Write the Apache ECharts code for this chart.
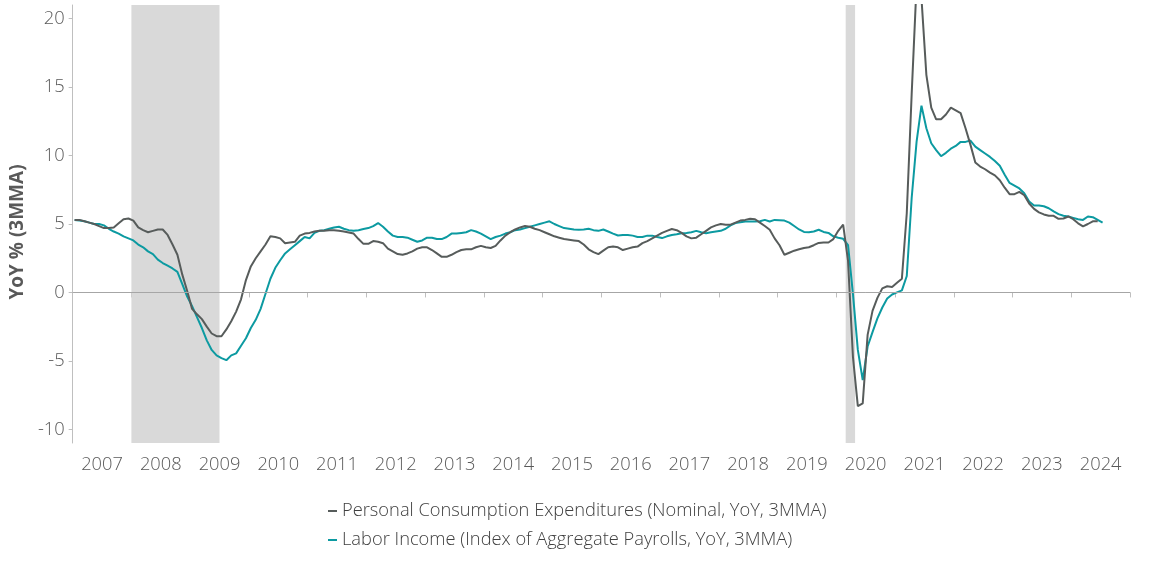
<!DOCTYPE html>
<html><head><meta charset="utf-8">
<script src="https://cdn.jsdelivr.net/npm/echarts@6/dist/echarts.min.js"></script>
<style>html,body{margin:0;padding:0;background:#fff}#c{width:1152px;height:577px}</style>
</head><body><div id="c"></div><script>
const startYear = 2007;
const seriesNames = ['Personal Consumption Expenditures (Nominal, YoY, 3MMA)', 'Labor Income (Index of Aggregate Payrolls, YoY, 3MMA)'];
const pce = [
 5.3, 5.3, 5.2, 5.1, 5.0, 4.85, 4.7, 4.7, 4.75, 5.05, 5.35, 5.4,
 5.25, 4.75, 4.55, 4.4, 4.5, 4.6, 4.6, 4.2, 3.5, 2.75, 1.3, 0.1,
 -1.2, -1.6, -1.95, -2.5, -3.0, -3.2, -3.2, -2.7, -2.1, -1.4, -0.5, 0.9,
 1.9, 2.5, 3.0, 3.5, 4.1, 4.05, 3.95, 3.6, 3.65, 3.7, 4.15, 4.3,
 4.35, 4.45, 4.5, 4.5, 4.55, 4.55, 4.5, 4.45, 4.38, 4.3, 3.9, 3.55,
 3.55, 3.75, 3.7, 3.6, 3.2, 3.0, 2.8, 2.75, 2.85, 3.0, 3.2, 3.3,
 3.3, 3.1, 2.85, 2.6, 2.6, 2.75, 2.95, 3.1, 3.15, 3.15, 3.3, 3.4,
 3.3, 3.25, 3.4, 3.8, 4.15, 4.4, 4.6, 4.75, 4.85, 4.8, 4.65, 4.55,
 4.4, 4.25, 4.1, 4.0, 3.9, 3.85, 3.8, 3.75, 3.5, 3.15, 2.95, 2.8,
 3.05, 3.3, 3.35, 3.3, 3.1, 3.2, 3.3, 3.35, 3.6, 3.75, 3.95, 4.15,
 4.35, 4.5, 4.63, 4.55, 4.35, 4.1, 3.95, 4.0, 4.25, 4.5, 4.75, 4.9,
 5.0, 4.95, 4.95, 5.1, 5.25, 5.3, 5.38, 5.35, 5.1, 4.85, 4.58, 3.95,
 3.45, 2.75, 2.9, 3.05, 3.15, 3.25, 3.3, 3.45, 3.62, 3.65, 3.65, 3.9,
 4.5, 4.95, 2.3, -4.7, -8.3, -8.1, -3.1, -1.35, -0.4, 0.3, 0.45, 0.4,
 0.7, 1.0, 5.8, 14.5, 22.5, 21.5, 15.9, 13.5, 12.65, 12.65, 13.0, 13.5,
 13.3, 13.1, 12.0, 10.8, 9.5, 9.2, 9.0, 8.75, 8.55, 8.2, 7.65, 7.18,
 7.18, 7.35, 7.1, 6.5, 6.1, 5.85, 5.7, 5.6, 5.6, 5.38, 5.4, 5.55,
 5.35, 5.05, 4.82, 5.0, 5.2, 5.2
];
const labor = [
 5.3, 5.25, 5.2, 5.1, 5.0, 5.0, 4.9, 4.65, 4.45, 4.3, 4.1, 3.95,
 3.8, 3.5, 3.3, 3.0, 2.8, 2.4, 2.15, 1.95, 1.75, 1.5, 0.6, -0.3,
 -1.0, -1.8, -2.6, -3.5, -4.2, -4.6, -4.8, -4.95, -4.6, -4.45, -3.9, -3.35,
 -2.6, -2.0, -1.2, -0.1, 1.0, 1.8, 2.35, 2.85, 3.15, 3.45, 3.75, 4.05,
 3.95, 4.35, 4.5, 4.55, 4.65, 4.75, 4.8, 4.65, 4.55, 4.5, 4.55, 4.63,
 4.7, 4.85, 5.07, 4.8, 4.45, 4.15, 4.05, 4.05, 4.0, 3.85, 3.7, 3.8,
 4.0, 4.0, 3.9, 3.9, 4.05, 4.3, 4.3, 4.35, 4.4, 4.55, 4.45, 4.3,
 4.1, 3.9, 4.05, 4.15, 4.3, 4.4, 4.55, 4.6, 4.7, 4.8, 4.9, 5.0,
 5.1, 5.2, 5.0, 4.85, 4.7, 4.65, 4.6, 4.58, 4.6, 4.65, 4.55, 4.5,
 4.6, 4.45, 4.3, 4.16, 4.2, 4.2, 4.15, 4.05, 4.05, 4.15, 4.15, 4.05,
 3.97, 4.1, 4.2, 4.25, 4.33, 4.35, 4.4, 4.5, 4.4, 4.33, 4.4, 4.45,
 4.5, 4.65, 4.9, 5.07, 5.12, 5.18, 5.18, 5.18, 5.2, 5.3, 5.18, 5.3,
 5.28, 5.25, 5.1, 4.85, 4.6, 4.42, 4.4, 4.45, 4.58, 4.42, 4.35, 4.1,
 4.0, 3.92, 3.45, -0.1, -4.2, -6.4, -3.95, -2.9, -1.9, -1.1, -0.45, -0.15,
 0.0, 0.15, 1.2, 6.9, 11.0, 13.65, 12.0, 10.9, 10.4, 9.95, 10.2, 10.5,
 10.7, 11.0, 11.0, 11.1, 10.65, 10.4, 10.15, 9.9, 9.6, 9.25, 8.6, 8.0,
 7.8, 7.6, 7.25, 6.65, 6.35, 6.35, 6.3, 6.15, 5.92, 5.72, 5.6, 5.55,
 5.45, 5.35, 5.3, 5.55, 5.5, 5.3, 5.1
];
const yTicks = [-10, -5, 0, 5, 10, 15, 20];
const recessions = [[2008.0, 2009.5], [2020.16, 2020.32]];
const yearRange = [2007, 2025];

function toPoints(vals) { return vals.map((v, i) => [startYear + (i + 0.4) / 12, v]); }

const FONT = '"Open Sans", "Noto Sans", sans-serif';
const LABEL = '#595959';
const AXIS = '#bfbfbf';

const chart = echarts.init(document.getElementById('c'), null, {renderer: 'canvas'});
chart.setOption({
  animation: false,
  backgroundColor: '#ffffff',
  grid: {left: 72, right: 22, top: 5, bottom: 134, containLabel: false},
  legend: {
    data: seriesNames, orient: 'vertical', left: 323, top: 494,
    icon: 'rect', itemWidth: 9, itemHeight: 2, itemGap: 5,
    textStyle: {fontFamily: FONT, fontSize: 18.3, fontWeight: 300, color: '#404040', lineHeight: 24}
  },
  xAxis: [{
    type: 'value', min: yearRange[0], max: yearRange[1], interval: 1,
    axisLine: {show: true, lineStyle: {color: AXIS, width: 1}},
    axisTick: {show: true, length: 5, lineStyle: {color: AXIS}},
    axisLabel: {show: false}, splitLine: {show: false}
  }, {
    type: 'value', min: yearRange[0], max: yearRange[1], interval: 0.5, position: 'bottom',
    axisLine: {show: false}, axisTick: {show: false}, splitLine: {show: false},
    axisLabel: {
      show: true, margin: 13, color: LABEL, fontFamily: FONT, fontSize: 18.3, fontWeight: 300,
      formatter: v => (Math.abs(v % 1 - 0.5) < 1e-6) ? String(Math.floor(v)) : ''
    }
  }],
  yAxis: {
    type: 'value', min: -11, max: 21,
    name: 'YoY % (3MMA)', nameLocation: 'middle', nameGap: 41, nameRotate: 90,
    nameTextStyle: {fontFamily: FONT, fontSize: 19, fontWeight: 'bold', color: LABEL, padding: [0, 16, 0, 0]},
    axisLine: {show: true, lineStyle: {color: AXIS, width: 1}},
    axisTick: {show: true, length: 4, customValues: yTicks, lineStyle: {color: AXIS}},
    axisLabel: {customValues: yTicks, margin: 8, color: LABEL, fontFamily: FONT, fontSize: 18.3, fontWeight: 300},
    splitLine: {show: false}
  },
  series: [{
    name: 'bands', type: 'line', data: [], z: 1, silent: true,
    markArea: {silent: true, itemStyle: {color: '#d9d9d9', opacity: 1},
      data: recessions.map(r => [{xAxis: r[0]}, {xAxis: r[1]}])},
    markLine: {silent: true, symbol: 'none', label: {show: false},
      lineStyle: {color: '#a6a6a6', width: 1, type: 'solid'}, data: [{yAxis: 0}]}
  }, {
    name: seriesNames[0], type: 'line', data: toPoints(pce), z: 4,
    showSymbol: false, symbol: 'none', lineStyle: {color: '#575c5b', width: 2}, itemStyle: {color: '#575c5b'}
  }, {
    name: seriesNames[1], type: 'line', data: toPoints(labor), z: 3,
    showSymbol: false, symbol: 'none', lineStyle: {color: '#0c9aa1', width: 2}, itemStyle: {color: '#0c9aa1'}
  }]
});
</script></body></html>
